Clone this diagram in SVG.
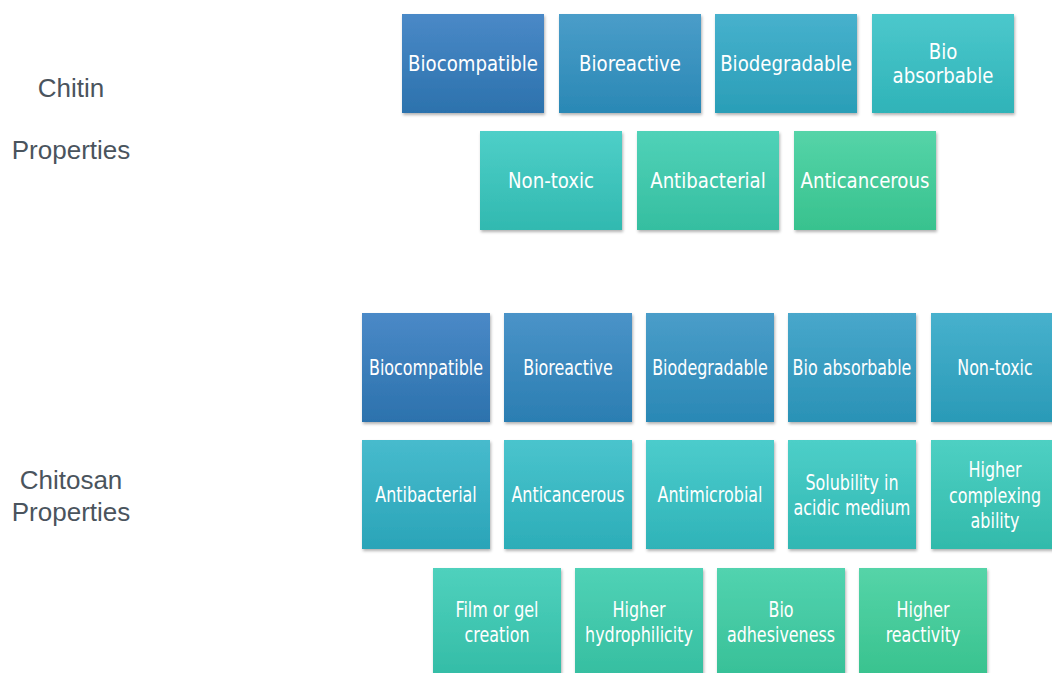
<svg xmlns="http://www.w3.org/2000/svg" width="1052" height="673" viewBox="0 0 1052 673">
<defs>
<filter id="sh" x="-10%" y="-10%" width="120%" height="125%">
<feDropShadow dx="1" dy="2" stdDeviation="1.5" flood-color="#000" flood-opacity="0.3"/>
</filter>
<linearGradient id="a1" x1="0" y1="0" x2="0" y2="1"><stop offset="0" stop-color="#4a89c7"/><stop offset="1" stop-color="#2c72ad"/></linearGradient>
<linearGradient id="a2" x1="0" y1="0" x2="0" y2="1"><stop offset="0" stop-color="#4a9dc9"/><stop offset="1" stop-color="#2a88b5"/></linearGradient>
<linearGradient id="a3" x1="0" y1="0" x2="0" y2="1"><stop offset="0" stop-color="#47b1cd"/><stop offset="1" stop-color="#2a9eb7"/></linearGradient>
<linearGradient id="a4" x1="0" y1="0" x2="0" y2="1"><stop offset="0" stop-color="#4cc8cc"/><stop offset="1" stop-color="#2fb3b8"/></linearGradient>
<linearGradient id="a5" x1="0" y1="0" x2="0" y2="1"><stop offset="0" stop-color="#4ecfc8"/><stop offset="1" stop-color="#31b9b0"/></linearGradient>
<linearGradient id="a6" x1="0" y1="0" x2="0" y2="1"><stop offset="0" stop-color="#50d2b8"/><stop offset="1" stop-color="#35bea0"/></linearGradient>
<linearGradient id="a7" x1="0" y1="0" x2="0" y2="1"><stop offset="0" stop-color="#55d4a8"/><stop offset="1" stop-color="#38c28e"/></linearGradient>
<linearGradient id="b1" x1="0" y1="0" x2="0" y2="1"><stop offset="0" stop-color="#4a89c7"/><stop offset="1" stop-color="#2c72ad"/></linearGradient>
<linearGradient id="b2" x1="0" y1="0" x2="0" y2="1"><stop offset="0" stop-color="#4a93c8"/><stop offset="1" stop-color="#2b7eb2"/></linearGradient>
<linearGradient id="b3" x1="0" y1="0" x2="0" y2="1"><stop offset="0" stop-color="#4a9dc9"/><stop offset="1" stop-color="#2a88b5"/></linearGradient>
<linearGradient id="b4" x1="0" y1="0" x2="0" y2="1"><stop offset="0" stop-color="#48a7cb"/><stop offset="1" stop-color="#2a92b6"/></linearGradient>
<linearGradient id="b5" x1="0" y1="0" x2="0" y2="1"><stop offset="0" stop-color="#47b1cd"/><stop offset="1" stop-color="#2a9ab7"/></linearGradient>
<linearGradient id="b6" x1="0" y1="0" x2="0" y2="1"><stop offset="0" stop-color="#47bbcd"/><stop offset="1" stop-color="#2aa4b8"/></linearGradient>
<linearGradient id="b7" x1="0" y1="0" x2="0" y2="1"><stop offset="0" stop-color="#4ac4cd"/><stop offset="1" stop-color="#2cadb8"/></linearGradient>
<linearGradient id="b8" x1="0" y1="0" x2="0" y2="1"><stop offset="0" stop-color="#4ccccc"/><stop offset="1" stop-color="#2fb3b8"/></linearGradient>
<linearGradient id="b9" x1="0" y1="0" x2="0" y2="1"><stop offset="0" stop-color="#4dcfc8"/><stop offset="1" stop-color="#30b7b3"/></linearGradient>
<linearGradient id="b10" x1="0" y1="0" x2="0" y2="1"><stop offset="0" stop-color="#4ed0c3"/><stop offset="1" stop-color="#32baab"/></linearGradient>
<linearGradient id="b11" x1="0" y1="0" x2="0" y2="1"><stop offset="0" stop-color="#4fd1bd"/><stop offset="1" stop-color="#33bca6"/></linearGradient>
<linearGradient id="b12" x1="0" y1="0" x2="0" y2="1"><stop offset="0" stop-color="#50d2b6"/><stop offset="1" stop-color="#35bea0"/></linearGradient>
<linearGradient id="b13" x1="0" y1="0" x2="0" y2="1"><stop offset="0" stop-color="#52d3af"/><stop offset="1" stop-color="#37c097"/></linearGradient>
<linearGradient id="b14" x1="0" y1="0" x2="0" y2="1"><stop offset="0" stop-color="#55d4a8"/><stop offset="1" stop-color="#38c28e"/></linearGradient>
</defs>
<style>
.box{filter:url(#sh)}
.t1{font-family:"DejaVu Sans Condensed","DejaVu Sans",sans-serif;font-size:21px;fill:#ffffff;text-anchor:middle}
.t2{font-family:"DejaVu Sans Condensed","DejaVu Sans",sans-serif;font-size:22px;fill:#ffffff;text-anchor:middle}
.lbl{font-family:"Liberation Sans",Arial,sans-serif;font-size:26px;fill:#4a545d;text-anchor:middle}
</style>
<rect width="1052" height="673" fill="#ffffff"/>
<g id="labels">
<text class="lbl" x="71" y="97">Chitin</text>
<text class="lbl" x="71" y="159">Properties</text>
<text class="lbl" x="71" y="489">Chitosan</text>
<text class="lbl" x="71" y="521">Properties</text>
</g>
<g id="connectors"></g>
<g id="chitin">
<g id="c1"><rect class="box" x="402" y="14" width="142" height="99" fill="url(#a1)"/><text class="t1" transform="translate(473,71) scale(0.96,1)">Biocompatible</text></g>
<g id="c2"><rect class="box" x="559" y="14" width="142" height="99" fill="url(#a2)"/><text class="t1" transform="translate(630,71) scale(0.96,1)">Bioreactive</text></g>
<g id="c3"><rect class="box" x="715" y="14" width="142" height="99" fill="url(#a3)"/><text class="t1" transform="translate(786,71) scale(0.96,1)">Biodegradable</text></g>
<g id="c4"><rect class="box" x="872" y="14" width="142" height="99" fill="url(#a4)"/><text class="t1" transform="translate(943,59) scale(0.96,1)">Bio</text><text class="t1" transform="translate(943,83) scale(0.96,1)">absorbable</text></g>
<g id="c5"><rect class="box" x="480" y="131" width="142" height="99" fill="url(#a5)"/><text class="t1" transform="translate(551,188) scale(0.96,1)">Non-toxic</text></g>
<g id="c6"><rect class="box" x="637" y="131" width="142" height="99" fill="url(#a6)"/><text class="t1" transform="translate(708,188) scale(0.96,1)">Antibacterial</text></g>
<g id="c7"><rect class="box" x="794" y="131" width="142" height="99" fill="url(#a7)"/><text class="t1" transform="translate(865,188) scale(0.96,1)">Anticancerous</text></g>
</g>
<g id="chitosan">
<g id="s1"><rect class="box" x="362" y="313" width="128" height="109" fill="url(#b1)"/><text class="t2" transform="translate(426,375) scale(0.805,1)">Biocompatible</text></g>
<g id="s2"><rect class="box" x="504" y="313" width="128" height="109" fill="url(#b2)"/><text class="t2" transform="translate(568,375) scale(0.805,1)">Bioreactive</text></g>
<g id="s3"><rect class="box" x="646" y="313" width="128" height="109" fill="url(#b3)"/><text class="t2" transform="translate(710,375) scale(0.805,1)">Biodegradable</text></g>
<g id="s4"><rect class="box" x="788" y="313" width="128" height="109" fill="url(#b4)"/><text class="t2" transform="translate(852,375) scale(0.805,1)">Bio absorbable</text></g>
<g id="s5"><rect class="box" x="931" y="313" width="128" height="109" fill="url(#b5)"/><text class="t2" transform="translate(995,375) scale(0.805,1)">Non-toxic</text></g>
<g id="s6"><rect class="box" x="362" y="440" width="128" height="109" fill="url(#b6)"/><text class="t2" transform="translate(426,502) scale(0.805,1)">Antibacterial</text></g>
<g id="s7"><rect class="box" x="504" y="440" width="128" height="109" fill="url(#b7)"/><text class="t2" transform="translate(568,502) scale(0.805,1)">Anticancerous</text></g>
<g id="s8"><rect class="box" x="646" y="440" width="128" height="109" fill="url(#b8)"/><text class="t2" transform="translate(710,502) scale(0.805,1)">Antimicrobial</text></g>
<g id="s9"><rect class="box" x="788" y="440" width="128" height="109" fill="url(#b9)"/><text class="t2" transform="translate(852,490) scale(0.805,1)">Solubility in</text><text class="t2" transform="translate(852,515) scale(0.805,1)">acidic medium</text></g>
<g id="s10"><rect class="box" x="931" y="440" width="128" height="109" fill="url(#b10)"/><text class="t2" transform="translate(995,477) scale(0.805,1)">Higher</text><text class="t2" transform="translate(995,503) scale(0.805,1)">complexing</text><text class="t2" transform="translate(995,528) scale(0.805,1)">ability</text></g>
<g id="s11"><rect class="box" x="433" y="568" width="128" height="110" fill="url(#b11)"/><text class="t2" transform="translate(497,617) scale(0.805,1)">Film or gel</text><text class="t2" transform="translate(497,642) scale(0.805,1)">creation</text></g>
<g id="s12"><rect class="box" x="575" y="568" width="128" height="110" fill="url(#b12)"/><text class="t2" transform="translate(639,617) scale(0.805,1)">Higher</text><text class="t2" transform="translate(639,642) scale(0.805,1)">hydrophilicity</text></g>
<g id="s13"><rect class="box" x="717" y="568" width="128" height="110" fill="url(#b13)"/><text class="t2" transform="translate(781,617) scale(0.805,1)">Bio</text><text class="t2" transform="translate(781,642) scale(0.805,1)">adhesiveness</text></g>
<g id="s14"><rect class="box" x="859" y="568" width="128" height="110" fill="url(#b14)"/><text class="t2" transform="translate(923,617) scale(0.805,1)">Higher</text><text class="t2" transform="translate(923,642) scale(0.805,1)">reactivity</text></g>
</g>
</svg>
